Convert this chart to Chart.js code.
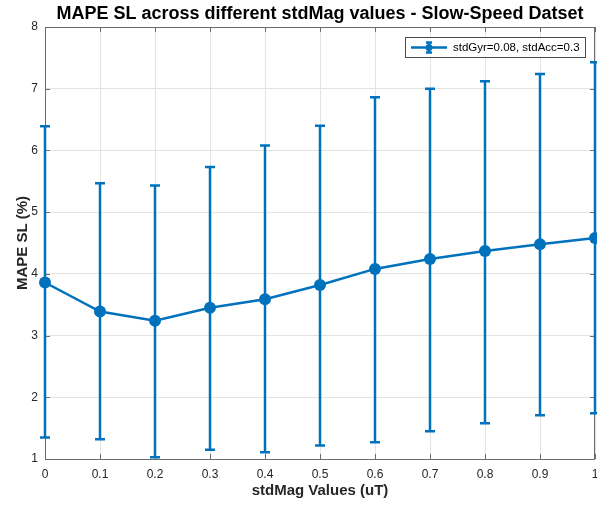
<!DOCTYPE html>
<html>
<head>
<meta charset="utf-8">
<script src="https://cdn.jsdelivr.net/npm/chart.js@4/dist/chart.umd.min.js"></script>
<style>
  html, body { margin: 0; padding: 0; background: #ffffff; }
  #wrap { width: 597px; height: 505px; position: relative; }
</style>
</head>
<body>
<div id="wrap"><canvas id="chart" width="597" height="505"></canvas></div>
<script>
// stdMag sweep (uT) and the resulting MAPE of step length (%)
const stdMagValues = [0, 0.1, 0.2, 0.3, 0.4, 0.5, 0.6, 0.7, 0.8, 0.9, 1.0];
const mapeMean     = [3.86, 3.39, 3.24, 3.45, 3.59, 3.82, 4.08, 4.24, 4.37, 4.48, 4.58];
const mapeUpper    = [6.39, 5.47, 5.43, 5.73, 6.08, 6.40, 6.86, 7.00, 7.12, 7.24, 7.43];
const mapeLower    = [1.35, 1.32, 1.03, 1.15, 1.11, 1.22, 1.27, 1.45, 1.58, 1.71, 1.74];
const xTickLabels  = ['0', '0.1', '0.2', '0.3', '0.4', '0.5', '0.6', '0.7', '0.8', '0.9', '1'];
const yTickLabels  = ['1', '2', '3', '4', '5', '6', '7', '8'];
const seriesLabel  = 'stdGyr=0.08, stdAcc=0.3';
const chartTitle   = 'MAPE SL across different stdMag values - Slow-Speed Datset';

const BLUE = '#0072BD';
const FONT = '"Liberation Sans", Arial, Helvetica, sans-serif';
const AXIS_COLOR = '#6b6b6b';
const TEXT_COLOR = '#262626';

// Title, box, inward ticks, error bars and legend
const decorations = {
  id: 'decorations',
  beforeDatasetsDraw(chart) {
    const ctx = chart.ctx;
    const a = chart.chartArea;
    const xs = chart.scales.x, ys = chart.scales.y;
    ctx.save();
    // axes box
    ctx.strokeStyle = AXIS_COLOR;
    ctx.lineWidth = 1;
    ctx.strokeRect(Math.round(a.left) + 0.5, Math.round(a.top) + 0.5,
                   Math.round(a.right - a.left) - 1, Math.round(a.bottom - a.top));
    // inward tick marks on all four sides
    const tl = 5;
    ctx.beginPath();
    xs.ticks.forEach(t => {
      const px = Math.round(xs.getPixelForValue(t.value)) + 0.5;
      ctx.moveTo(px, a.bottom); ctx.lineTo(px, a.bottom - tl);
      ctx.moveTo(px, a.top); ctx.lineTo(px, a.top + tl);
    });
    ys.ticks.forEach(t => {
      const py = Math.round(ys.getPixelForValue(t.value)) + 0.5;
      ctx.moveTo(a.left, py); ctx.lineTo(a.left + tl, py);
      ctx.moveTo(a.right, py); ctx.lineTo(a.right - tl, py);
    });
    ctx.stroke();

    // error bars
    ctx.strokeStyle = BLUE;
    ctx.lineWidth = 2.5;
    const cap = 5;
    ctx.beginPath();
    stdMagValues.forEach((v, i) => {
      const px = xs.getPixelForValue(v);
      const pt = ys.getPixelForValue(mapeUpper[i]);
      const pb = ys.getPixelForValue(mapeLower[i]);
      ctx.moveTo(px, pt); ctx.lineTo(px, pb);
      ctx.moveTo(px - cap, pt); ctx.lineTo(px + cap, pt);
      ctx.moveTo(px - cap, pb); ctx.lineTo(px + cap, pb);
    });
    ctx.stroke();
    ctx.restore();
  },
  afterDraw(chart) {
    const ctx = chart.ctx;
    const a = chart.chartArea;
    ctx.save();
    // title
    ctx.fillStyle = '#000000';
    ctx.font = 'bold 18px ' + FONT;
    ctx.textAlign = 'center';
    ctx.textBaseline = 'middle';
    ctx.fillText(chartTitle, (a.left + a.right) / 2, 14);

    // legend box
    const lx = 405, ly = 37, lw = 180, lh = 20;
    ctx.fillStyle = '#ffffff';
    ctx.fillRect(lx, ly, lw, lh);
    ctx.strokeStyle = '#4a4a4a';
    ctx.lineWidth = 1;
    ctx.strokeRect(lx + 0.5, ly + 0.5, lw, lh);
    const cy = ly + lh / 2 + 0.5;
    ctx.strokeStyle = BLUE;
    ctx.lineWidth = 2.5;
    ctx.beginPath();
    ctx.moveTo(lx + 6, cy); ctx.lineTo(lx + 42, cy);
    const mx = lx + 24;
    ctx.moveTo(mx, cy - 5); ctx.lineTo(mx, cy + 5);
    ctx.moveTo(mx - 3, cy - 5); ctx.lineTo(mx + 3, cy - 5);
    ctx.moveTo(mx - 3, cy + 5); ctx.lineTo(mx + 3, cy + 5);
    ctx.stroke();
    ctx.fillStyle = BLUE;
    ctx.beginPath();
    ctx.arc(mx, cy, 3.5, 0, Math.PI * 2);
    ctx.fill();
    ctx.fillStyle = '#000000';
    ctx.font = '11.5px ' + FONT;
    ctx.textAlign = 'left';
    ctx.textBaseline = 'middle';
    ctx.fillText(seriesLabel, lx + 48, cy);
    ctx.restore();
  }
};

new Chart(document.getElementById('chart'), {
  type: 'line',
  data: {
    datasets: [{
      label: seriesLabel,
      data: stdMagValues.map((x, i) => ({ x: x, y: mapeMean[i] })),
      borderColor: BLUE,
      backgroundColor: BLUE,
      borderWidth: 2.5,
      pointRadius: 6,
      pointHoverRadius: 6,
      pointBackgroundColor: BLUE,
      pointBorderColor: BLUE,
      pointBorderWidth: 0,
      tension: 0,
      clip: false
    }]
  },
  options: {
    responsive: false,
    animation: false,
    events: [],
    layout: { autoPadding: false, padding: { top: 27, right: 2, left: 0, bottom: 0 } },
    plugins: {
      legend: { display: false },
      title: { display: false },
      tooltip: { enabled: false }
    },
    scales: {
      x: {
        type: 'linear',
        min: 0, max: 1,
        afterFit(scale) {
          scale.height = 46;
          scale.paddingLeft = 0;
          scale.paddingRight = 0;
        },
        afterBuildTicks(scale) {
          scale.ticks = stdMagValues.map(v => ({ value: v }));
        },
        ticks: {
          autoSkip: false,
          maxRotation: 0,
          padding: 8,
          color: TEXT_COLOR,
          font: { family: FONT, size: 12 },
          callback: (v, i) => xTickLabels[i]
        },
        grid: { color: '#e3e3e3', lineWidth: 1, drawTicks: false },
        border: { display: false },
        title: {
          display: true,
          text: 'stdMag Values (uT)',
          color: TEXT_COLOR,
          font: { family: FONT, size: 15, weight: 'bold', lineHeight: 1.2 },
          padding: { top: 0, bottom: 5 }
        }
      },
      y: {
        type: 'linear',
        min: 1, max: 8,
        afterFit(scale) {
          scale.width = 45;
          scale.paddingTop = 0;
          scale.paddingBottom = 0;
        },
        afterBuildTicks(scale) {
          scale.ticks = yTickLabels.map(s => ({ value: Number(s) }));
        },
        ticks: {
          padding: 7,
          color: TEXT_COLOR,
          font: { family: FONT, size: 12 },
          callback: (v, i) => yTickLabels[i]
        },
        grid: { color: '#e3e3e3', lineWidth: 1, drawTicks: false },
        border: { display: false },
        title: {
          display: true,
          text: 'MAPE SL (%)',
          color: TEXT_COLOR,
          font: { family: FONT, size: 15, weight: 'bold', lineHeight: 1.2 },
          padding: { top: 14, bottom: 0 }
        }
      }
    }
  },
  plugins: [decorations]
});
</script>
</body>
</html>
